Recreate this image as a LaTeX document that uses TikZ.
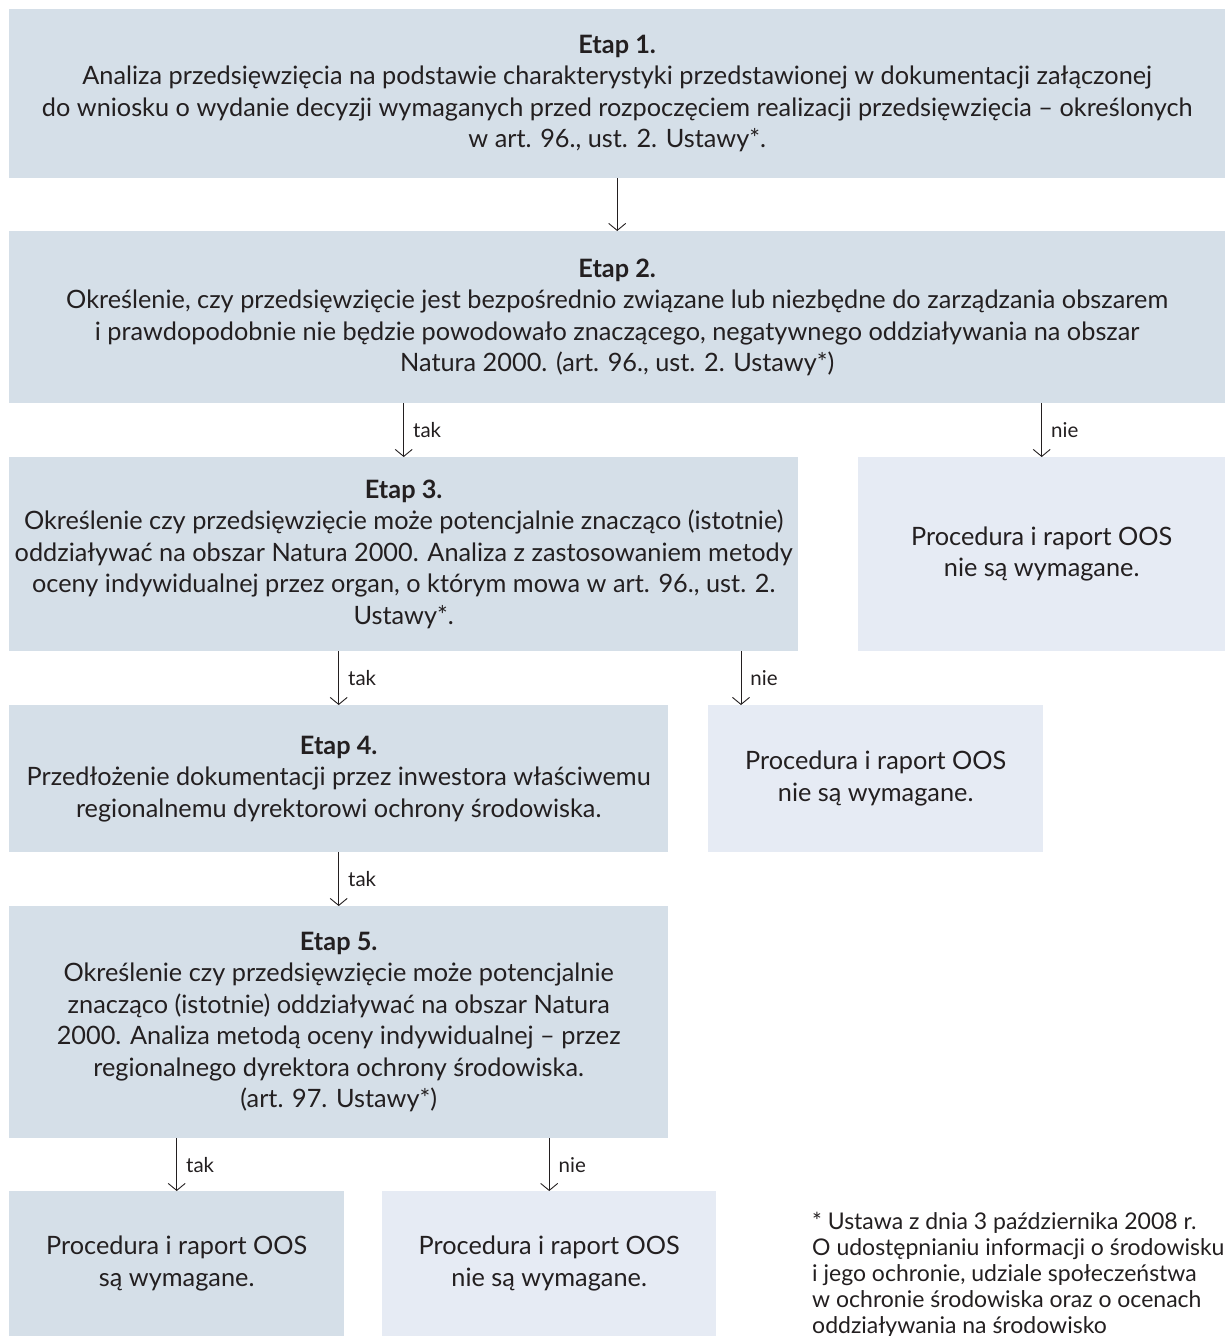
\documentclass[tikz,border=0pt]{standalone}
\usepackage{fontspec}
\setmainfont{Lato}
\usepackage{tikz}
\usetikzlibrary{arrows.meta}
\definecolor{etapblue}{RGB}{213,223,232}
\definecolor{infoblue}{RGB}{230,235,244}
\definecolor{inkgray}{RGB}{35,31,32}

\begin{document}
\begin{tikzpicture}[x=1pt,y=-1pt,
    etap/.style={fill=etapblue, anchor=north west, align=center, inner sep=0pt,
        text=inkgray, font=\fontsize{25.3}{31.5}\selectfont},
    info/.style={etap, fill=infoblue},
    arr/.style={draw=inkgray, line width=0.9pt, -{Straight Barb[length=7pt,width=17pt]}},
    lbl/.style={right, xshift=9pt, inner sep=0pt, text=inkgray, font=\fontsize{20.5}{24}\selectfont}]
     \useasboundingbox (0,0) rectangle (1225,1336);
     \clip (0,0) rectangle (1225,1336);
     % boxes
     \node[etap, minimum width=1216, minimum height=169] (e1) at (9,9)
        {\textbf{Etap 1.}\\
         Analiza przedsięwzięcia na podstawie charakterystyki przedstawionej w dokumentacji załączonej\\
         do wniosku o wydanie decyzji wymaganych przed rozpoczęciem realizacji przedsięwzięcia – określonych\\
         w art. 96., ust. 2. Ustawy*.};
     \node[etap, minimum width=1216, minimum height=172] (e2) at (9,231)
        {\textbf{Etap 2.}\\
         Określenie, czy przedsięwzięcie jest bezpośrednio związane lub niezbędne do zarządzania obszarem\\
         i prawdopodobnie nie będzie powodowało znaczącego, negatywnego oddziaływania na obszar\\
         Natura 2000. (art. 96., ust. 2. Ustawy*)};
     \node[etap, minimum width=789, minimum height=194] (e3) at (9,457)
        {\textbf{Etap 3.}\\
         Określenie czy przedsięwzięcie może potencjalnie znacząco (istotnie)\\
         oddziaływać na obszar Natura 2000. Analiza z zastosowaniem metody\\
         oceny indywidualnej przez organ, o którym mowa w art. 96., ust. 2.\\
         Ustawy*.};
     \node[info, minimum width=367, minimum height=194] (n1) at (858,457)
        {Procedura i raport OOS\\ nie są wymagane.};
     \node[etap, minimum width=659, minimum height=147] (e4) at (9,705)
        {\textbf{Etap 4.}\\
         Przedłożenie dokumentacji przez inwestora właściwemu\\
         regionalnemu dyrektorowi ochrony środowiska.};
     \node[info, minimum width=335, minimum height=147] (n2) at (708,705)
        {Procedura i raport OOS\\ nie są wymagane.};
     \node[etap, minimum width=659, minimum height=232] (e5) at (9,906)
        {\textbf{Etap 5.}\\
         Określenie czy przedsięwzięcie może potencjalnie\\
         znacząco (istotnie) oddziaływać na obszar Natura\\
         2000. Analiza metodą oceny indywidualnej – przez\\
         regionalnego dyrektora ochrony środowiska.\\
         (art. 97. Ustawy*)};
     \node[etap, minimum width=335, minimum height=145] (t5) at (9,1191)
        {Procedura i raport OOS\\ są wymagane.};
     \node[info, minimum width=334, minimum height=145] (n5) at (382,1191)
        {Procedura i raport OOS\\ nie są wymagane.};
     \node[anchor=north west, align=left, inner sep=0pt, text=inkgray,
        font=\fontsize{23}{26}\selectfont] (note) at (812,1212)
        {* Ustawa z dnia 3 października 2008 r.\\
         O udostępnianiu informacji o środowisku\\
         i jego ochronie, udziale społeczeństwa\\
         w ochronie środowiska oraz o ocenach\\
         oddziaływania na środowisko};
     % arrows
     \draw[arr] (e1.south) -- (e2.north);
     \draw[arr] (e2.south -| e3.north) -- (e3.north) node[lbl, midway] {tak};
     \draw[arr] (e2.south -| n1.north) -- (n1.north) node[lbl, midway] {nie};
     \draw[arr] (e3.south -| e4.north) -- (e4.north) node[lbl, midway] {tak};
     \draw[arr] ([xshift=33]n2.north west |- e3.south) -- ([xshift=33]n2.north west) node[lbl, midway] {nie};
     \draw[arr] (e4.south) -- (e5.north) node[lbl, midway] {tak};
     \draw[arr] (e5.south -| t5.north) -- (t5.north) node[lbl, midway] {tak};
     \draw[arr] (e5.south -| n5.north) -- (n5.north) node[lbl, midway] {nie};
\end{tikzpicture}
\end{document}
